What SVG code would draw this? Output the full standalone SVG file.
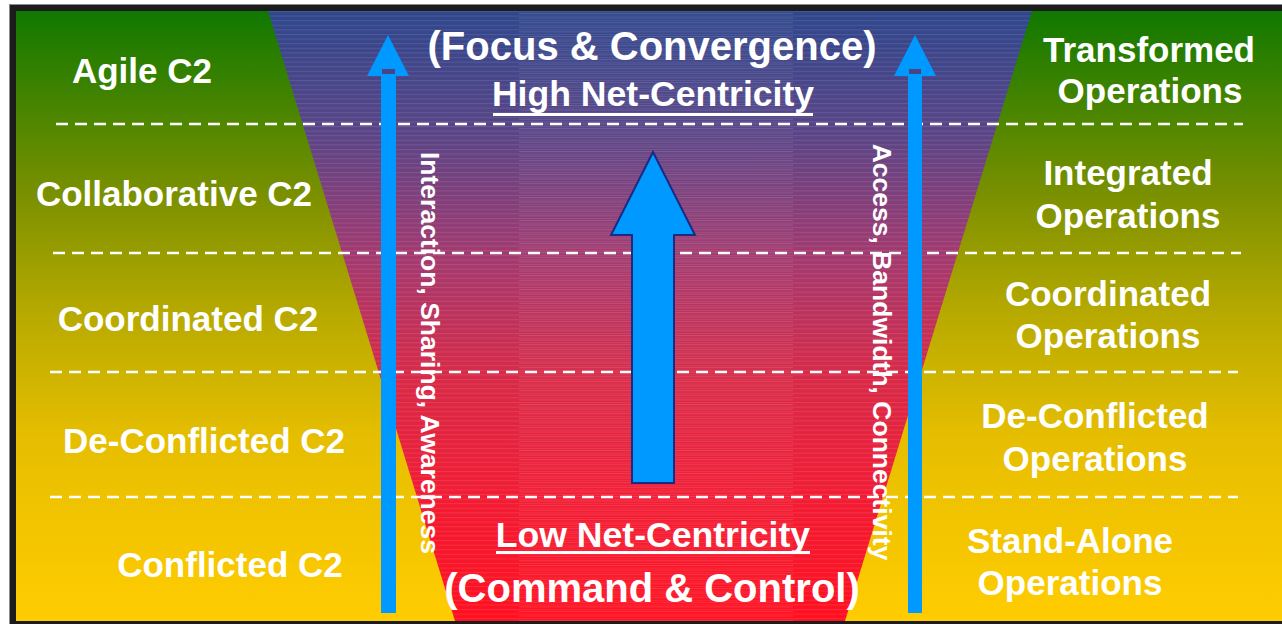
<svg xmlns="http://www.w3.org/2000/svg" width="1282" height="624" viewBox="0 0 1282 624">
<defs>
<linearGradient id="bg" gradientUnits="userSpaceOnUse" x1="0" y1="11" x2="0" y2="621">
<stop offset="0" stop-color="#107800"/>
<stop offset="0.3" stop-color="#7a9000"/>
<stop offset="0.5" stop-color="#b8aa00"/>
<stop offset="0.7" stop-color="#e6be00"/>
<stop offset="1" stop-color="#ffcc00"/>
</linearGradient>
<linearGradient id="fun" gradientUnits="userSpaceOnUse" x1="0" y1="11" x2="0" y2="621">
<stop offset="0" stop-color="#2f478c"/>
<stop offset="0.2" stop-color="#5a4587"/>
<stop offset="0.4" stop-color="#a23a70"/>
<stop offset="0.6" stop-color="#d82a48"/>
<stop offset="0.8" stop-color="#f21c34"/>
<stop offset="1" stop-color="#ff1020"/>
</linearGradient>
<pattern id="stripes" patternUnits="userSpaceOnUse" x="0" y="11" width="10" height="4.6">
<rect x="0" y="0" width="10" height="1" fill="#ffffff" fill-opacity="0.1"/>
</pattern>
<pattern id="stripes2" patternUnits="userSpaceOnUse" x="0" y="13" width="10" height="4.6">
<rect x="0" y="0" width="10" height="1" fill="#ffffff" fill-opacity="0.14"/>
</pattern>
</defs>
<style>
.lbl{font-family:"Liberation Sans",Arial,sans-serif;font-weight:bold;font-size:35px;fill:#ffffff;text-anchor:middle}
.ttl{font-size:40px}
.sub{font-size:35.6px}
.vt{font-family:"Liberation Sans",Arial,sans-serif;font-weight:bold;font-size:26.5px;fill:#ffffff;text-anchor:middle}
.dash{stroke:#ffffff;stroke-width:2.5;stroke-dasharray:12 7;fill:none}
.thin{fill:#0099ff}
.big{fill:#0099ff;stroke:#1c2a80;stroke-width:2}
</style>
<rect x="9.5" y="4.5" width="1290" height="630" fill="#1c1c1c" stroke="#8a8a8a" stroke-width="1"/>
<rect x="16" y="11" width="1270" height="610" fill="url(#bg)"/>
<g id="funnel">
<polygon points="268,11 1032,11 845,621 455,621" fill="url(#fun)"/>
<polygon points="268,11 1032,11 845,621 455,621" fill="url(#stripes)"/>
<rect x="519" y="11" width="274" height="610" fill="url(#stripes2)"/>
</g>
<g id="connectors">
<line class="dash" x1="56" y1="124" x2="1243" y2="124"/>
<line class="dash" x1="53" y1="253" x2="1241" y2="253"/>
<line class="dash" x1="50" y1="372" x2="1238" y2="372"/>
<line class="dash" x1="50" y1="497" x2="1238" y2="497"/>
</g>
<g id="left-labels">
<text id="agile" class="lbl" x="142" y="83">Agile C2</text>
<text id="collab" class="lbl" x="174" y="206">Collaborative C2</text>
<text id="coord" class="lbl" x="188" y="331">Coordinated C2</text>
<text id="deconf" class="lbl" x="204" y="453">De-Conflicted C2</text>
<text id="conf" class="lbl" x="230" y="577">Conflicted C2</text>
</g>
<g id="right-labels">
<text id="transformed" class="lbl" x="1149"><tspan x="1149" y="62">Transformed</tspan><tspan x="1150" y="103">Operations</tspan></text>
<text id="integrated" class="lbl" x="1128"><tspan x="1128" y="185">Integrated</tspan><tspan x="1128" y="228">Operations</tspan></text>
<text id="coordops" class="lbl" x="1108"><tspan x="1108" y="306">Coordinated</tspan><tspan x="1108" y="348">Operations</tspan></text>
<text id="deconfops" class="lbl" x="1095"><tspan x="1095" y="428">De-Conflicted</tspan><tspan x="1095" y="471">Operations</tspan></text>
<text id="standalone" class="lbl" x="1070"><tspan x="1070" y="553">Stand-Alone</tspan><tspan x="1070" y="595">Operations</tspan></text>
</g>
<g id="center-text">
<text class="lbl ttl" x="652" y="60">(Focus &amp; Convergence)</text>
<text class="lbl sub" x="653" y="106">High Net-Centricity</text>
<rect x="493" y="113" width="320" height="3" fill="#ffffff"/>
<text class="lbl sub" x="653" y="547">Low Net-Centricity</text>
<rect x="496" y="551" width="314" height="3" fill="#ffffff"/>
<text class="lbl ttl" x="652" y="602">(Command &amp; Control)</text>
</g>
<g id="vertical-text">
<text class="vt" transform="translate(421,353) rotate(90)" x="0" y="0">Interaction, Sharing, Awareness</text>
<text class="vt" transform="translate(873,352) rotate(90)" x="0" y="0">Access, Bandwidth, Connectivity</text>
</g>
<g id="left-arrow">
<rect class="thin" x="381" y="75" width="15" height="538"/>
<polygon class="thin" points="388,35 409,76 367,76"/>
<rect x="382" y="69" width="13" height="5" fill="#4a4486"/>
</g>
<g id="right-arrow">
<rect class="thin" x="908" y="75" width="14" height="538"/>
<polygon class="thin" points="915,35 936,76 894,76"/>
<rect x="909" y="69" width="12" height="5" fill="#4a4486"/>
</g>
<g id="center-arrow">
<polygon class="big" points="653,152 695,235 674,235 674,483 632,483 632,235 611,235"/>
</g>
</svg>
